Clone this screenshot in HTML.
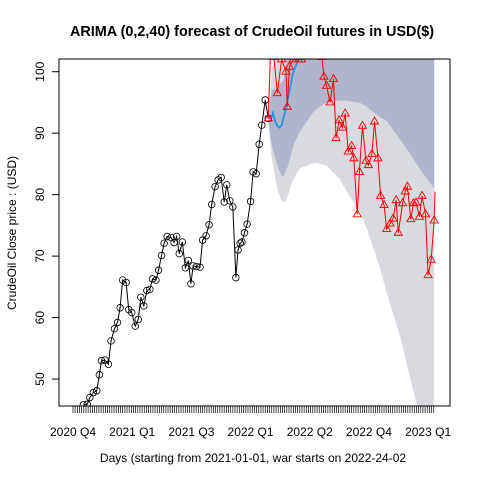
<!DOCTYPE html>
<html><head><meta charset="utf-8"><style>
body{margin:0;background:#fff}
svg text{font-family:"Liberation Sans",sans-serif;fill:#000}
</style></head><body>
<svg id="chart" width="480" height="480" viewBox="0 0 480 480" xmlns="http://www.w3.org/2000/svg">
<defs><clipPath id="pc"><rect x="59" y="59" width="391" height="347"/></clipPath></defs>
<rect width="480" height="480" fill="#fff"/>
<text x="252" y="36" text-anchor="middle" font-size="14.4" font-weight="bold">ARIMA (0,2,40) forecast of  CrudeOil futures in USD($)</text>
<text x="253" y="462" text-anchor="middle" font-size="12">Days (starting from 2021-01-01, war starts on 2022-24-02</text>
<text transform="translate(16,233) rotate(-90)" text-anchor="middle" font-size="12">CrudeOil Close price : (USD)</text>
<g id="plot" clip-path="url(#pc)"></g>
<g id="axes"></g>
<rect x="59" y="59" width="391" height="347" fill="none" stroke="#000" stroke-width="1"/>
</svg>
<script>
const histDays=[24,33,39,47,55,61,66,74,82,88,96,103,109,115,123,129,136,144,151,157,164,171,178,184,192,198,205,211,218,227,234,240,246,253,260,267,273,278,286,294,300,308,315,321,329,336,343,350,356,363,370,377,382,387,391,397,403,411,417,424,431,437,445,452];
const histVals=[45.8,45.9,47.0,47.8,48.1,50.7,53.0,53.1,52.4,56.2,58.2,59.2,61.6,66.1,65.7,61.3,60.8,58.6,59.7,63.3,61.9,64.4,64.6,66.3,66.1,67.7,70.1,72.1,73.2,73.0,72.2,73.2,70.4,72.3,68.1,69.3,65.5,68.4,68.3,68.2,72.6,73.3,75.1,78.4,81.3,82.4,82.8,78.8,81.6,79.0,78.0,66.5,71.0,72.1,72.3,73.8,75.2,78.9,83.7,83.4,88.2,91.3,95.4,92.4];
const testDays=[452,458,465,473,483,493,496,501,510,522,529,576,581,587,595,603,609,616,624,630,637,645,650,658,663,670,678,684,692,698,706,712,720,726,734,741,748,753,763,769,774,782,788,794,802,808,816,822,829,836,838];
const testVals=[92.4,105,102.4,96.5,102,100,94.3,100.8,102,102,102,102.4,99.2,97.7,95,98.8,89.2,92.1,90.9,93.2,87,87.9,85.9,76.8,83.7,91.2,85.5,84.8,86.6,91.9,85.9,79.8,78.3,74.4,75.3,76.1,79.1,73.8,78.6,80.5,81.3,76,78.6,78.7,76.4,79.8,76.8,66.9,69.4,75.8,80.5];
const meanDays=[452,460,463,468,473,478,483,490,500,510,522];
const meanVals=[92.4,92.6,93.3,91.9,91.2,90.9,91.3,93.2,96.5,100,102];
const bandDays=[452,460,470,475,483,487,491,495,498,510,525,556,562,587,603,618,634,665,680,711,726,757,772,788,799,803,836];
const outerLo=[92,86,82,80.5,79,78.8,78.8,79.6,80,82.5,84.3,85.1,85.2,84.7,83.6,82.5,80.5,77,74.5,68,64,57,52.5,48,45,44,30];
const innerLo=[92,88,85.5,84.5,83,83,83.5,84.2,84.8,88,90.3,93.4,93.8,95,95.2,95.3,95.3,94.9,94.3,92.6,92,89,87.5,85.8,84.6,84.2,81];
const innerHi=[92,97,97.3,97.5,98.3,98.5,100,103,106,110,112,112,112,112,112,112,112,112,112,112,112,112,112,112,112,112,112];
const outerHi=[92,100.5,103,105,110,112,115,115,115,115,115,115,115,115,115,115,115,115,115,115,115,115,115,115,115,115,115];
const yTicks=[50,60,70,80,90,100];
const qLabels=["2020 Q4","2021 Q1","2021 Q3","2022 Q1","2022 Q2","2022 Q4","2023 Q1"];
const qDays=[0,137,274,411,548,685,822];

const X=d=>73+d*0.432;
const Y=v=>71.7+(100-v)*6.147;
const NS="http://www.w3.org/2000/svg";
const plot=document.getElementById('plot'),axes=document.getElementById('axes');
function mk(tag,attrs,parent){const e=document.createElementNS(NS,tag);for(const k in attrs)e.setAttribute(k,attrs[k]);parent.appendChild(e);return e;}
function band(lo,hi,fill,name){
  let pts=[];for(let i=0;i<bandDays.length;i++)pts.push(X(bandDays[i])+','+Y(hi[i]));
  for(let i=bandDays.length-1;i>=0;i--)pts.push(X(bandDays[i])+','+Y(lo[i]));
  const p=mk('polygon',{points:pts.join(' '),fill:fill},plot);
  
  
}
band(outerLo,outerHi,'#d9d9e0','ci-95-band');
band(innerLo,innerHi,'#b0b4cd','ci-80-band');
function line(ds,vs,color,w,name){
  const p=mk('polyline',{points:ds.map((d,i)=>X(d)+','+Y(vs[i])).join(' '),fill:'none',stroke:color,'stroke-width':w},plot);
  
  
}
line(histDays,histVals,'#000',1,'history-line');
histDays.forEach((d,i)=>{
  const c=mk('circle',{cx:X(d),cy:Y(histVals[i]),r:3.3,fill:'none',stroke:'#000','stroke-width':0.8},plot);
  
  
});
line(meanDays,meanVals,'#2196e8',1.8,'forecast-mean-line');
line(testDays,testVals,'#ff0000',1,'actual-line');
testDays.forEach((d,i)=>{
  if(i===testDays.length-1)return;
  const x=X(d),y=Y(testVals[i]);
  const t=mk('polygon',{points:`${x},${y-4.5} ${x-4},${y+2.5} ${x+4},${y+2.5}`,fill:'none',stroke:'#ff0000','stroke-width':0.9},plot);
  
  
});
mk('line',{x1:59,x2:59,y1:Y(50),y2:Y(100),stroke:'#000'},axes);
yTicks.forEach(v=>{
  const t=mk('line',{x1:52,x2:59,y1:Y(v),y2:Y(v),stroke:'#000'},axes);
  
  
  const l=mk('text',{transform:`translate(44,${Y(v)}) rotate(-90)`,'text-anchor':'middle','font-size':12},axes);
  l.textContent=v;
  
  
});
mk('line',{x1:X(0),x2:X(836),y1:406,y2:406,stroke:'#000'},axes);
for(let d=0;d<=836;d+=5){
  const t=mk('line',{x1:X(d),x2:X(d),y1:406,y2:413,stroke:'#000','stroke-width':0.7},axes);
  
  
}
qLabels.forEach((s,i)=>{
  const l=mk('text',{x:X(qDays[i]),y:436,'text-anchor':'middle','font-size':12},axes);
  l.textContent=s;
  
  
});
</script>
</body></html>
